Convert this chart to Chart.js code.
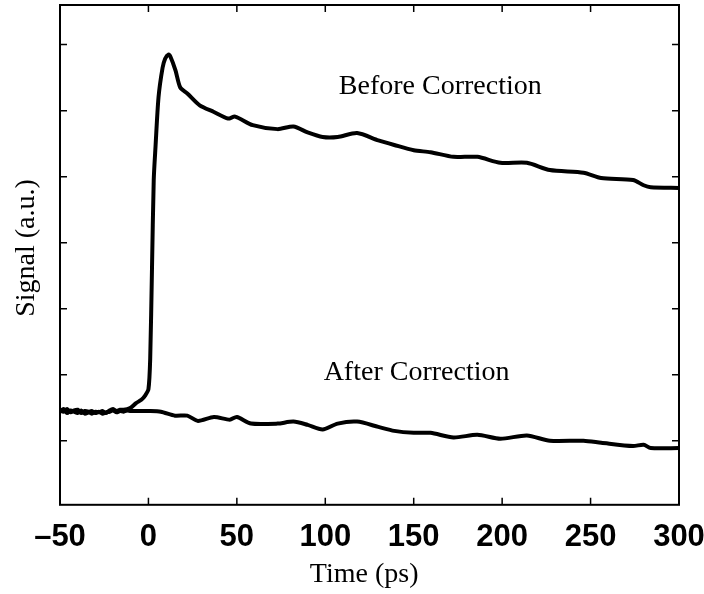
<!DOCTYPE html>
<html>
<head>
<meta charset="utf-8">
<script src="https://cdn.jsdelivr.net/npm/chart.js@4.4.1/dist/chart.umd.min.js"></script>
<style>
  body { margin: 0; background: #fff; }
</style>
</head>
<body>
<canvas id="myChart" width="704" height="594"></canvas>
<script>
// time axis (ps) and signal (a.u., one unit per y tick)
const timeBefore = [-50, -48, -46, -44, -42, -40, -38, -36, -34, -32, -30, -28, -26, -24, -22, -20, -18, -16, -14, -12, -10,
  -7, -4, -2, 0, 1, 2, 3, 4, 5.7, 8, 9.5, 11.3, 12.4, 15.3, 18, 22, 29, 37, 45, 49, 59, 73, 82, 90, 98.5, 107, 118,
  130, 139, 150, 159.5, 172.5, 186, 199, 214, 227, 246, 256, 274, 280, 284, 300];
const signalBefore = [0.47, 0.44, 0.48, 0.43, 0.46, 0.47, 0.42, 0.45, 0.44, 0.41, 0.44, 0.43, 0.45, 0.42, 0.46, 0.48, 0.45, 0.47, 0.47, 0.48, 0.50,
  0.57, 0.62, 0.68, 0.78, 1.24, 2.59, 3.95, 4.45, 5.20, 5.65, 5.79, 5.85, 5.82, 5.61, 5.35, 5.26, 5.08, 4.98, 4.88, 4.91, 4.78, 4.72, 4.76, 4.67, 4.60, 4.60, 4.66,
  4.55, 4.48, 4.40, 4.37, 4.30, 4.30, 4.21, 4.21, 4.10, 4.06, 3.98, 3.95, 3.87, 3.84, 3.83];

const timeAfter = [-50, -48, -46, -44, -42, -40, -38, -36, -34, -32, -30, -28, -26, -24, -22, -20, -18, -16, -14, -12, -10,
  -5, 0, 7, 15, 22, 28, 37, 46, 50, 58, 73, 82, 90, 98.5, 107, 118, 130, 139, 150, 159.5, 172.5, 186, 199, 214, 227, 246, 256, 274, 280, 284, 300];
const signalAfter = [0.44, 0.48, 0.42, 0.46, 0.44, 0.42, 0.46, 0.41, 0.43, 0.45, 0.42, 0.44, 0.41, 0.43, 0.44, 0.46, 0.43, 0.45, 0.44, 0.46, 0.45,
  0.45, 0.45, 0.44, 0.38, 0.38, 0.30, 0.36, 0.32, 0.36, 0.26, 0.26, 0.29, 0.24, 0.17, 0.26, 0.29, 0.21, 0.15, 0.12, 0.12, 0.05, 0.09, 0.03, 0.08, 0.00, 0.00, -0.03, -0.08, -0.06, -0.11, -0.11];

const xTicks = [-50, 0, 50, 100, 150, 200, 250, 300];
const yTicks = [0, 1, 2, 3, 4, 5, 6];

const serif = '"Liberation Serif", "DejaVu Serif", serif';

const framePlugin = {
  id: 'frame',
  afterDraw(chart) {
    const ctx = chart.ctx;
    const a = chart.chartArea;
    const xs = chart.scales.x, ys = chart.scales.y;
    ctx.save();
    ctx.strokeStyle = '#000';
    ctx.lineWidth = 2;
    ctx.strokeRect(a.left, a.top, a.right - a.left, a.bottom - a.top);
    ctx.lineWidth = 1.5;
    ctx.beginPath();
    xTicks.forEach(v => {
      const px = xs.getPixelForValue(v);
      ctx.moveTo(px, a.bottom); ctx.lineTo(px, a.bottom - 7);
      ctx.moveTo(px, a.top); ctx.lineTo(px, a.top + 7);
    });
    yTicks.forEach(v => {
      const py = ys.getPixelForValue(v);
      ctx.moveTo(a.left, py); ctx.lineTo(a.left + 7, py);
      ctx.moveTo(a.right, py); ctx.lineTo(a.right - 7, py);
    });
    ctx.stroke();

    // labels inside the plot
    ctx.fillStyle = '#000';
    ctx.font = '28px ' + serif;
    ctx.textAlign = 'center';
    ctx.textBaseline = 'middle';
    ctx.fillText('Before Correction', xs.getPixelForValue(165), ys.getPixelForValue(5.37));
    ctx.fillText('After Correction', xs.getPixelForValue(151.6), ys.getPixelForValue(1.03));

    // axis titles
    ctx.fillText('Time (ps)', xs.getPixelForValue(122), 575);
    ctx.translate(27, 248);
    ctx.rotate(-Math.PI / 2);
    ctx.fillText('Signal (a.u.)', 0, 0);
    ctx.restore();
  }
};

const toPoints = (xs, ys) => xs.map((x, i) => ({ x: x, y: ys[i] }));

const getChart = document.getElementById('myChart').getContext('2d');
const mychart = new Chart(getChart, {
  type: 'line',
  data: {
    datasets: [{
      label: 'Before Correction',
      data: toPoints(timeBefore, signalBefore),
      borderColor: '#000',
      borderWidth: 4,
      pointRadius: 0,
      tension: 0.25
    }, {
      label: 'After Correction',
      data: toPoints(timeAfter, signalAfter),
      borderColor: '#000',
      borderWidth: 4,
      pointRadius: 0,
      tension: 0.25
    }]
  },
  options: {
    responsive: false,
    animation: false,
    devicePixelRatio: 1,
    layout: { padding: { left: 60, right: 25, top: 5, bottom: 24 } },
    scales: {
      x: {
        type: 'linear',
        min: -50,
        max: 300,
        grid: { display: false, drawTicks: false },
        border: { display: false },
        afterBuildTicks: (scale) => { scale.ticks = xTicks.map(v => ({ value: v })); },
        afterFit: (scale) => { scale.paddingLeft = 0; scale.paddingRight = 0; },
        ticks: {
          color: '#000',
          padding: 14,
          font: { family: '"Liberation Sans", Arial, sans-serif', size: 31, weight: 'bold' },
          callback: (v) => v < 0 ? '\u2013' + Math.abs(v) : String(v)
        }
      },
      y: {
        display: false,
        min: -0.97,
        max: 6.6
      }
    },
    plugins: {
      legend: { display: false },
      tooltip: { enabled: false }
    }
  },
  plugins: [framePlugin]
});
</script>
</body>
</html>
